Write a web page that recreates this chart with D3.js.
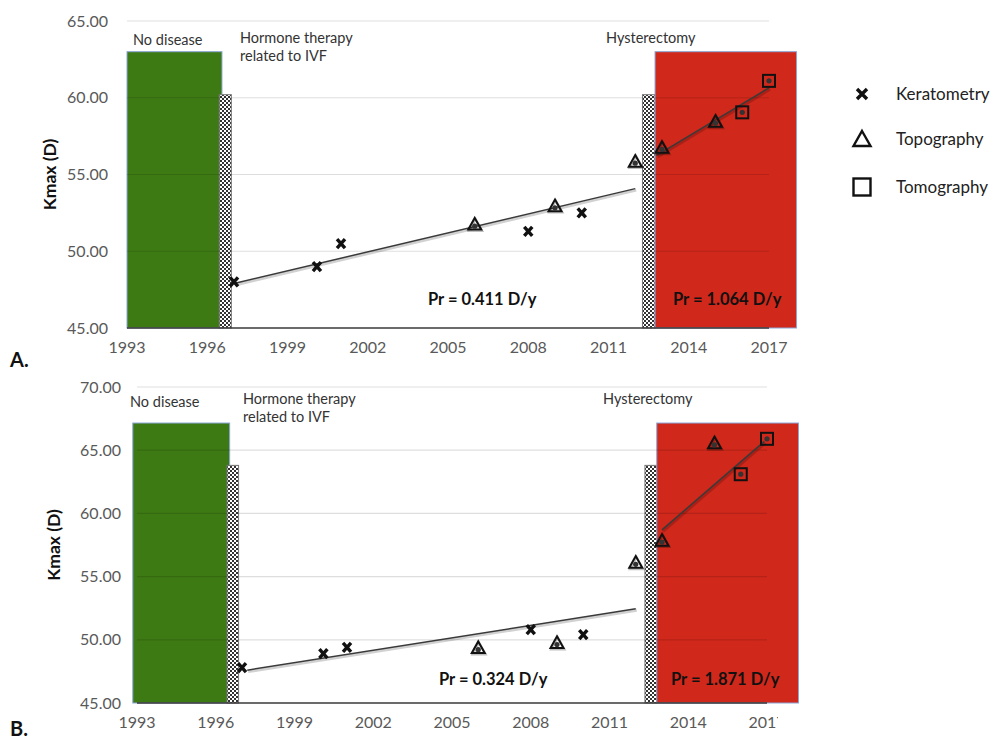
<!DOCTYPE html>
<html>
<head>
<meta charset="utf-8">
<script src="https://cdn.jsdelivr.net/npm/d3@7/dist/d3.min.js"></script>
<style>
  html, body { margin: 0; padding: 0; background: #fff; }
  svg { display: block; }
  text { font-family: Lato, "Open Sans", sans-serif; }
</style>
</head>
<body>
<svg id="chart" width="997" height="740"></svg>
<script>
// ---------- DATA ----------
const yearTicks = [1993, 1996, 1999, 2002, 2005, 2008, 2011, 2014, 2017];
const yTicksA = [45, 50, 55, 60, 65];
const yTicksB = [45, 50, 55, 60, 65, 70];

// phase blocks: [startYear, endYear, topValue, kind]
const phasesA = [
  [1993.0, 1996.55, 63.0, "green"],
  [1996.45, 1996.9, 60.2, "hatch"],
  [2012.27, 2012.74, 60.2, "hatch"],
  [2012.74, 2018.03, 63.0, "red"]
];
const phasesB = [
  [1992.84, 1996.53, 67.15, "green"],
  [1996.43, 1996.87, 63.8, "hatch"],
  [2012.35, 2012.8, 63.8, "hatch"],
  [2012.8, 2018.2, 67.15, "red"]
];

// panel A measurements [year, Kmax]
const keratometryA = [[1997, 48.0], [2000.1, 49.0], [2001, 50.5], [2008, 51.3], [2010, 52.5]];
const topographyA  = [[2006, 51.7], [2009, 52.9], [2012, 55.8], [2013, 56.7], [2015, 58.4]];
const tomographyA  = [[2016, 59.05], [2017, 61.1]];
const trendA1 = [[1997, 47.9], [2012, 54.08]];
const trendA2 = [[2012.8, 56.25], [2017, 60.65]];

// panel B measurements
const keratometryB = [[1997, 47.8], [2000.1, 48.9], [2001, 49.4], [2008, 50.8], [2010, 50.4]];
const topographyB  = [[2006, 49.3], [2009, 49.7], [2012, 56.05], [2013, 57.8], [2015, 65.5]];
const tomographyB  = [[2016, 63.1], [2017, 65.9]];
const trendB1 = [[1997.2, 47.6], [2012, 52.45]];
const trendB2 = [[2013, 58.7], [2016.9, 65.7]];

const rateLabelsA = ["Pr = 0.411 D/y", "Pr = 1.064 D/y"];
const rateLabelsB = ["Pr = 0.324 D/y", "Pr = 1.871 D/y"];
const legendLabels = ["Keratometry", "Topography", "Tomography"];

// ---------- DRAW ----------
const svg = d3.select("#chart");
const defs = svg.append("defs");
const pat = defs.append("pattern").attr("id", "checker")
  .attr("patternUnits", "userSpaceOnUse").attr("width", 4).attr("height", 4);
pat.append("rect").attr("width", 4).attr("height", 4).attr("fill", "#fff");
pat.append("rect").attr("width", 2).attr("height", 2).attr("fill", "#333");
pat.append("rect").attr("x", 2).attr("y", 2).attr("width", 2).attr("height", 2).attr("fill", "#333");

const fills = { green: "#3e7a14", red: "#d0281b", hatch: "url(#checker)" };
const strokes = { green: "#8aa6d6", red: "#8aa6d6", hatch: "#777" };

const xPath = "M-4,-4.5L4,4.5M4,-4.5L-4,4.5";
function triPath(s) { const h = s * 0.9; return `M0,${-h * 0.62}L${s / 2},${h * 0.38}L${-s / 2},${h * 0.38}Z`; }

function panel(cfg) {
  const g = svg.append("g");
  const x = d3.scaleLinear().domain([1993, 2017]).range(cfg.xr);
  const y = d3.scaleLinear().domain(cfg.yd).range(cfg.yr);
  const y0 = y(cfg.yd[0]);

  // phases
  g.selectAll("rect.phase").data(cfg.phases).join("rect")
    .attr("class", "phase")
    .attr("x", d => x(d[0])).attr("width", d => x(d[1]) - x(d[0]))
    .attr("y", d => y(d[2])).attr("height", d => y0 - y(d[2]))
    .attr("fill", d => fills[d[3]]).attr("stroke", d => strokes[d[3]]).attr("stroke-width", 1);

  // gridlines
  g.selectAll("line.grid").data(cfg.yTicks.slice(1)).join("line")
    .attr("x1", cfg.xr[0]).attr("x2", cfg.xr[1])
    .attr("y1", d => y(d)).attr("y2", d => y(d))
    .attr("stroke", "rgba(0,0,0,0.13)").attr("stroke-width", 1.2);

  // axis line
  g.append("line").attr("x1", cfg.xr[0]).attr("x2", cfg.xr[1])
    .attr("y1", y0).attr("y2", y0).attr("stroke", "#3a3a3a").attr("stroke-width", 1.6);

  // y tick labels
  g.selectAll("text.ytick").data(cfg.yTicks).join("text")
    .attr("x", cfg.yLabelRight).attr("y", d => y(d)).attr("dy", "0.35em")
    .attr("text-anchor", "end").attr("font-size", 16).attr("fill", "#595959")
    .text(d => d3.format(".2f")(d));

  // x tick labels
  const xt = g.append("g");
  if (cfg.clipX) {
    const cid = "clip" + cfg.name;
    defs.append("clipPath").attr("id", cid).append("rect")
      .attr("x", 0).attr("y", 0).attr("width", cfg.clipX).attr("height", 740);
    xt.attr("clip-path", `url(#${cid})`);
  }
  xt.selectAll("text").data(yearTicks).join("text")
    .attr("x", d => x(d)).attr("y", y0 + 25)
    .attr("text-anchor", "middle").attr("font-size", 16).attr("fill", "#595959")
    .text(d => d);

  // y axis title
  g.append("text").attr("transform", `translate(${cfg.titleX},${(cfg.yr[0] + cfg.yr[1]) / 2}) rotate(-90)`)
    .attr("text-anchor", "middle").attr("dy", "0.35em")
    .attr("font-size", 17.5).attr("font-weight", "bold").attr("fill", "#111")
    .text("Kmax (D)");

  // trend lines
  const line = d3.line().x(d => x(d[0])).y(d => y(d[1]));
  [cfg.trend1, cfg.trend2].forEach(t => {
    g.append("path").datum(t).attr("d", line).attr("fill", "none")
      .attr("stroke", "rgba(0,0,0,0.18)").attr("stroke-width", 3).attr("transform", "translate(1,1.5)");
    g.append("path").datum(t).attr("d", line).attr("fill", "none")
      .attr("stroke", "#3a3a3a").attr("stroke-width", 1.5);
  });

  // keratometry X marks
  g.selectAll("path.ker").data(cfg.ker).join("path")
    .attr("class", "ker").attr("d", xPath)
    .attr("transform", d => `translate(${x(d[0])},${y(d[1])})`)
    .attr("fill", "none").attr("stroke", "#111").attr("stroke-width", 3.4).attr("stroke-linecap", "butt");

  // topography triangles
  const tri = g.selectAll("g.topo").data(cfg.topo).join("g")
    .attr("transform", d => `translate(${x(d[0])},${y(d[1])})`);
  tri.append("path").attr("d", triPath(13)).attr("transform", "translate(0.8,1.2)")
    .attr("fill", "none").attr("stroke", "rgba(0,0,0,0.25)").attr("stroke-width", 2.4);
  tri.append("path").attr("d", triPath(13)).attr("fill", "none")
    .attr("stroke", "#111").attr("stroke-width", 2).attr("stroke-linejoin", "miter");
  tri.append("circle").attr("cy", 1).attr("r", 2.6).attr("fill", "#333");

  // tomography squares
  const sq = g.selectAll("g.tomo").data(cfg.tomo).join("g")
    .attr("transform", d => `translate(${x(d[0])},${y(d[1])})`);
  sq.append("rect").attr("x", -6).attr("y", -6).attr("width", 12).attr("height", 12)
    .attr("fill", "none").attr("stroke", "#111").attr("stroke-width", 2);
  sq.append("circle").attr("r", 2.6).attr("fill", "#333");

  // annotations
  const ann = cfg.ann;
  const at = (t, px, py) => g.append("text").attr("x", px).attr("y", py).attr("dy", "0.35em")
    .attr("font-size", 14.5).attr("fill", "#333").text(t);
  at("No disease", ann.nd[0], ann.nd[1]);
  at("Hormone therapy", ann.ht[0], ann.ht[1]);
  at("related to IVF", ann.ht[0], ann.ht[1] + 18);
  at("Hysterectomy", ann.hy[0], ann.hy[1]);

  // rate labels
  cfg.rates.forEach((t, i) => {
    g.append("text").attr("x", cfg.rateX[i]).attr("y", cfg.rateY).attr("dy", "0.35em")
      .attr("font-size", 16.5).attr("font-weight", "bold").attr("fill", "#111").text(t);
  });

  // panel letter
  g.append("text").attr("x", 10).attr("y", cfg.letterY)
    .attr("font-family", "'Liberation Serif', 'DejaVu Serif', serif")
    .attr("font-size", 20).attr("font-weight", "bold").attr("fill", "#111").text(cfg.letter);
}

panel({
  name: "A", xr: [127, 769], yd: [45, 65], yr: [328, 21], yTicks: yTicksA, phases: phasesA,
  yLabelRight: 108, titleX: 50,
  ker: keratometryA, topo: topographyA, tomo: tomographyA, trend1: trendA1, trend2: trendA2,
  ann: { nd: [133, 40], ht: [240, 38], hy: [606, 38] },
  rates: rateLabelsA, rateX: [428, 673], rateY: 299, letter: "A.", letterY: 367
});

panel({
  name: "B", xr: [137, 767], yd: [45, 70], yr: [703, 387], yTicks: yTicksB, phases: phasesB,
  yLabelRight: 121, titleX: 54, clipX: 778,
  ker: keratometryB, topo: topographyB, tomo: tomographyB, trend1: trendB1, trend2: trendB2,
  ann: { nd: [130, 402], ht: [243, 399], hy: [603, 399] },
  rates: rateLabelsB, rateX: [439, 671], rateY: 679, letter: "B.", letterY: 736
});

// legend
const lg = svg.append("g");
const legY = [94, 139, 187];
lg.append("path").attr("d", "M-5,-5L5,5M5,-5L-5,5").attr("transform", `translate(862,${legY[0]})`)
  .attr("fill", "none").attr("stroke", "#111").attr("stroke-width", 3.4);
lg.append("path").attr("d", "M0,-8L8.5,7L-8.5,7Z").attr("transform", `translate(862,${legY[1]})`)
  .attr("fill", "none").attr("stroke", "#111").attr("stroke-width", 2.4);
lg.append("rect").attr("x", 862 - 8.5).attr("y", legY[2] - 8.5).attr("width", 17).attr("height", 17)
  .attr("fill", "none").attr("stroke", "#111").attr("stroke-width", 2.4);
lg.selectAll("text").data(legendLabels).join("text")
  .attr("x", 896).attr("y", (d, i) => legY[i]).attr("dy", "0.35em")
  .attr("font-size", 17).attr("fill", "#222").text(d => d);
</script>
</body>
</html>
